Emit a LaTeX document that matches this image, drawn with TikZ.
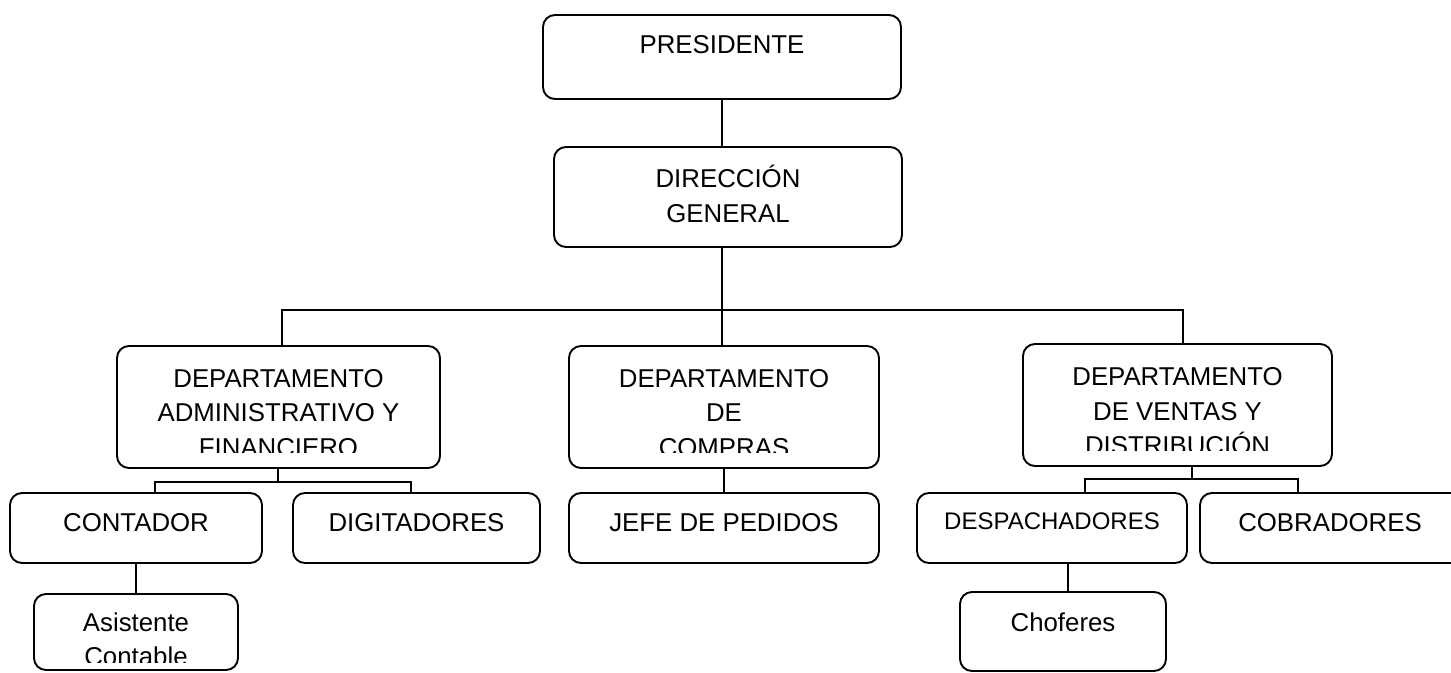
\documentclass[tikz,border=0pt]{standalone}
\usepackage{fontspec}
\setmainfont{Liberation Sans}
\begin{document}
\begin{tikzpicture}[x=1pt,y=-1pt,
  box/.style={draw,line width=1.9pt,rounded corners=12pt,inner sep=0pt},
  txt/.style={inner sep=0pt,anchor=base,font=\fontsize{25.8pt}{30pt}\selectfont},
  stxt/.style={inner sep=0pt,anchor=base,font=\fontsize{24pt}{28pt}\selectfont},
  con/.style={line width=1.5pt}]
\clip (0,0) rectangle (1451,672);
\fill[white] (0,0) rectangle (1451,672);
% boxes
\node[box,minimum width=358pt,minimum height=84pt] (pres) at (722,57) {};
\node[box,minimum width=348pt,minimum height=100pt] (dir) at (728,197) {};
\node[box,minimum width=323pt,minimum height=122pt] (dA) at (278.5,407) {};
\node[box,minimum width=310pt,minimum height=122pt] (dC) at (724,407) {};
\node[box,minimum width=309pt,minimum height=122pt] (dV) at (1177.5,405) {};
\node[box,minimum width=252pt,minimum height=70pt] (cont) at (136,528) {};
\node[box,minimum width=247pt,minimum height=70pt] (dig) at (416.5,528) {};
\node[box,minimum width=310pt,minimum height=70pt] (jefe) at (724,528) {};
\node[box,minimum width=270pt,minimum height=70pt] (desp) at (1052,528) {};
\node[box,minimum width=274pt,minimum height=70pt] (cob) at (1337,528) {};
\node[box,minimum width=204pt,minimum height=76pt] (asis) at (136,632) {};
\node[box,minimum width=206pt,minimum height=79pt] (chof) at (1063,631.5) {};
% texts
\node[txt] (tpres) at (722,53.5) {PRESIDENTE};
\node[txt] (tdir1) at (728,187) {DIRECCIÓN};
\node[txt] (tdir2) at (728,222) {GENERAL};
\node[txt] (tdA1) at (278.5,387) {DEPARTAMENTO};
\node[txt] (tdA2) at (278.5,421.5) {ADMINISTRATIVO Y};
\begin{scope}
\clip (117,346) rectangle (440,452);
\node[txt] (tdA3) at (278.5,456) {FINANCIERO};
\end{scope}
\node[txt] (tdC1) at (724,387) {DEPARTAMENTO};
\node[txt] (tdC2) at (724,421.5) {DE};
\begin{scope}
\clip (569,346) rectangle (879,452);
\node[txt] (tdC3) at (724,456) {COMPRAS};
\end{scope}
\node[txt] (tdV1) at (1177.5,385.5) {DEPARTAMENTO};
\node[txt] (tdV2) at (1177.5,420) {DE VENTAS Y};
\begin{scope}
\clip (1023,344) rectangle (1332,450);
\node[txt] (tdV3) at (1177.5,454.5) {DISTRIBUCIÓN};
\end{scope}
\node[txt] (tcont) at (136,531) {CONTADOR};
\node[txt] (tdig) at (416.5,531) {DIGITADORES};
\node[txt] (tjefe) at (724,531.5) {JEFE DE PEDIDOS};
\node[stxt] (tdesp) at (1052,529.5) {DESPACHADORES};
\node[txt] (tcob) at (1330,531) {COBRADORES};
\node[txt] (tasis1) at (136,631) {Asistente};
\begin{scope}
\clip (34,594) rectangle (238,662);
\node[txt] (tasis2) at (136,665.5) {Contable};
\end{scope}
\node[txt] (tchof) at (1063,631) {Choferes};
% connectors
\coordinate (busL) at (282,310);
\coordinate (busR) at (1183,310);
\coordinate (aJ) at (278,482);
\coordinate (aL) at (155,482);
\coordinate (aR) at (411,482);
\coordinate (vJ) at (1192,479);
\coordinate (vL) at (1085,479);
\coordinate (vR) at (1298,479);
\coordinate (dx) at (1068,563);
\draw[con] (pres.south) -- (pres.south |- dir.north);
\draw[con] (pres.south |- dir.south) -- (pres.south |- dC.north);
\draw[con] (busL |- dA.north) -- (busL) -- (busR) -- (busR |- dV.north);
\draw[con] (dA.south -| aJ) -- (aJ);
\draw[con] (aL |- cont.north) -- (aL) -- (aR) -- (aR |- dig.north);
\draw[con] (cont.south) -- (asis.north);
\draw[con] (dC.south) -- (jefe.north);
\draw[con] (dV.south -| vJ) -- (vJ);
\draw[con] (vL |- desp.north) -- (vL) -- (vR) -- (vR |- cob.north);
\draw[con] (dx) -- (dx |- chof.north);
\end{tikzpicture}
\end{document}
